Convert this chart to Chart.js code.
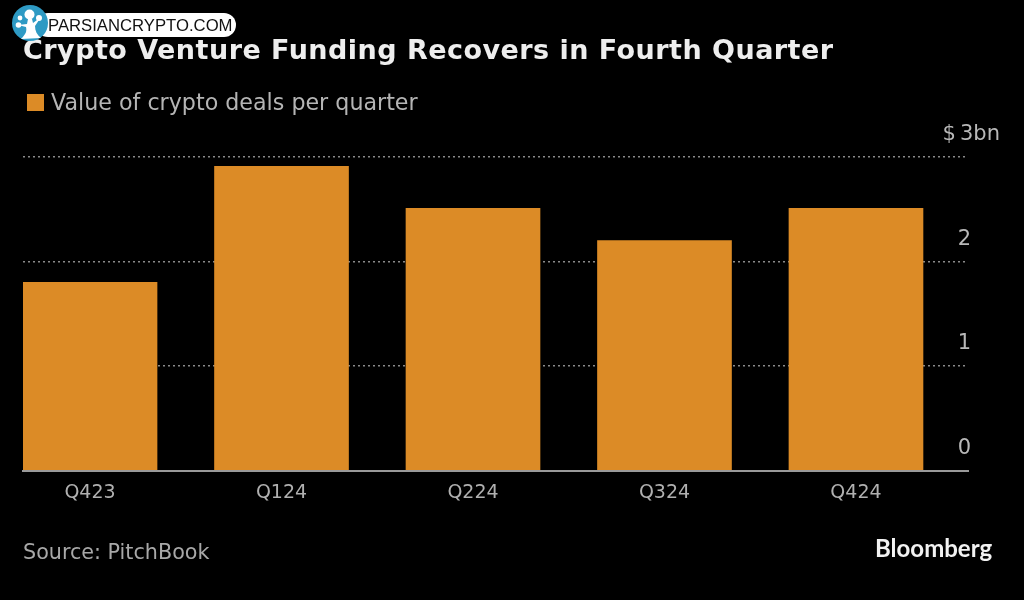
<!DOCTYPE html>
<html>
<head>
<meta charset="utf-8">
<title>Crypto Venture Funding Recovers in Fourth Quarter</title>
<script src="https://cdn.jsdelivr.net/npm/chart.js@4"></script>
<style>
html, body { margin: 0; padding: 0; background: #000; }
#wrap { position: relative; width: 1024px; height: 600px; overflow: hidden; background: #000; font-family: "DejaVu Sans", sans-serif; }
#wrap canvas { position: absolute; left: 0; top: 0; }
.txt { position: absolute; white-space: nowrap; }
#title { left: 23px; top: 34px; font-size: 27px; font-weight: bold; color: #eee; letter-spacing: 0.47px; }
#swatch { position: absolute; left: 27px; top: 94px; width: 17px; height: 17px; background: #dc8b26; }
#legend { left: 51px; top: 89px; font-size: 22.2px; color: #b5b5b5; }
#source { left: 23px; top: 540px; font-size: 20.7px; color: #a8a8a8; }
#brand { left: 875px; top: 533px; font-family: Lato, sans-serif; font-size: 24px; font-weight: bold; color: #f2f2f2; }
#pill { left: 36px; top: 13px; width: 200px; height: 24px; border-radius: 12px; background: #fff; color: #111; font-family: "Liberation Sans", sans-serif; font-size: 16.7px; line-height: 25px; text-indent: 12px; }
#logo { position: absolute; left: 12px; top: 5px; }
</style>
</head>
<body>
<div id="wrap">
  <canvas id="myChart" width="1024" height="600"></canvas>
  <div class="txt" id="title">Crypto Venture Funding Recovers in Fourth Quarter</div>
  <div id="swatch"></div>
  <div class="txt" id="legend">Value of crypto deals per quarter</div>
  <div class="txt" id="source">Source: PitchBook</div>
  <div class="txt" id="brand">Bloomberg</div>
  <div class="txt" id="pill">PARSIANCRYPTO.COM</div>
  <svg id="logo" width="36" height="36" viewBox="0 0 36 36">
    <circle cx="18" cy="18" r="18" fill="#2e9ac4"/>
    <path d="M9 34 C14 29 15 26 14 22 L6 20 L15 19 L16 14 L20 14 L21 18 L29 12 L23 21 C23 26 25 30 29 33 Z" fill="#fff"/>
    <circle cx="17.5" cy="9.5" r="5" fill="#fff"/>
    <circle cx="27" cy="13" r="3" fill="#fff"/>
    <circle cx="8" cy="13" r="2.4" fill="#fff"/>
    <circle cx="6.5" cy="20" r="2.8" fill="#fff"/>
  </svg>
</div>
<script>
const categories = ['Q423', 'Q124', 'Q224', 'Q324', 'Q424'];
const dealValues = [1.8, 2.91, 2.51, 2.2, 2.51];
const yTicks = [0, 1, 2, 3];
// trailing spaces keep the digits under the 3 of the top label
const yTickLabels = ['0\u00a0\u00a0\u00a0\u00a0\u200a', '1\u00a0\u00a0\u00a0\u00a0\u200a', '2\u00a0\u00a0\u00a0\u00a0\u200a', '$\u20093bn'];

const ctx = document.getElementById('myChart');
const myChart = new Chart(ctx, {
    type: 'bar',
    data: {
        datasets: [{
            label: 'Value of crypto deals per quarter',
            data: dealValues.map(function(v, i) { return {x: i, y: v}; }),
            backgroundColor: '#dc8b26',
            barThickness: 134
        }]
    },
    options: {
        responsive: false,
        animation: false,
        layout: {padding: {left: 23, top: 157, right: 0, bottom: 0}},
        plugins: {legend: {display: false}, title: {display: false}, tooltip: {enabled: false}},
        scales: {
            x: {
                type: 'linear',
                offset: false,
                min: -0.35,
                max: 4.585,
                afterBuildTicks: function(axis) {
                    axis.ticks = categories.map(function(c, i) { return {value: i}; });
                },
                afterFit: function(axis) { axis.height = 129.5; },
                grid: {display: false, drawTicks: false},
                border: {color: '#9a9a9a', width: 2},
                ticks: {
                    color: '#b0b0b0',
                    padding: 11,
                    maxRotation: 0,
                    font: {family: 'DejaVu Sans', size: 19},
                    callback: function(v) { return categories[v]; }
                }
            },
            y: {
                position: 'right',
                min: 0,
                max: 3,
                afterBuildTicks: function(axis) {
                    axis.ticks = yTicks.map(function(v) { return {value: v}; });
                },
                afterFit: function(axis) { axis.width = 56; axis.paddingTop = 0; axis.paddingBottom = 0; },
                grid: {color: '#8a8a8a', lineWidth: 1.5, tickLength: 0, drawTicks: false},
                border: {display: false, dash: [2, 3]},
                ticks: {
                    color: '#b8b8b8',
                    mirror: true,
                    padding: 32,
                    labelOffset: -22,
                    font: {family: 'DejaVu Sans', size: 21},
                    callback: function(v) { return yTickLabels[v]; }
                }
            }
        }
    }
});
</script>
</body>
</html>
